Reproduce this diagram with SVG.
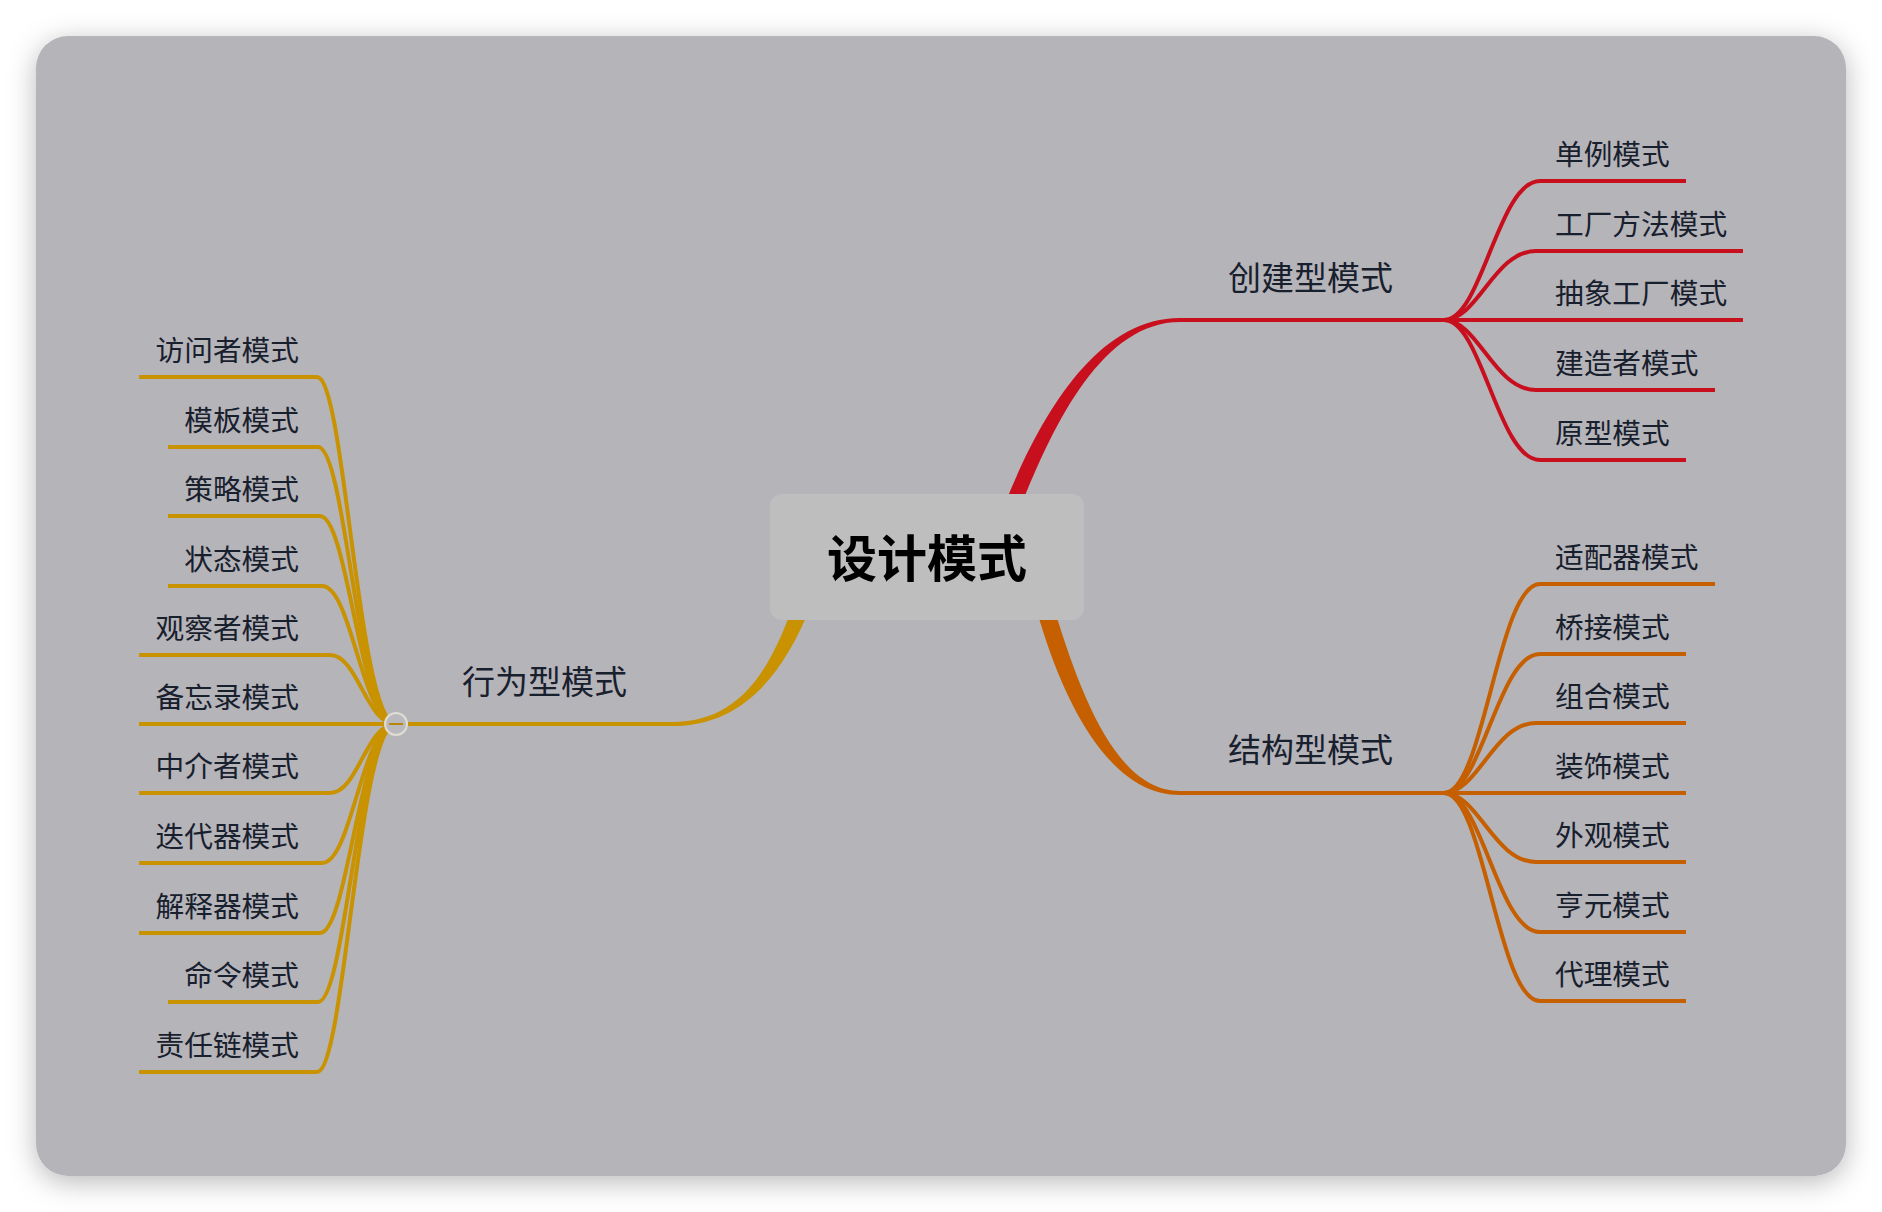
<svg xmlns="http://www.w3.org/2000/svg" width="1882" height="1212" viewBox="0 0 1882 1212">
<defs>
<filter id="shadow" x="-10%" y="-10%" width="120%" height="120%">
<feDropShadow dx="0" dy="6" stdDeviation="14" flood-color="#000" flood-opacity="0.28"/>
</filter>
<style>
.t{font-family:"Noto Sans CJK SC","Noto Sans",sans-serif;fill:#18202e;}
.c{font-size:28.7px;}
.p{font-size:33px;}
.root{font-size:50px;font-weight:bold;fill:#000;}
.r{fill:none;stroke:#c80f1e;stroke-width:4;}
.o{fill:none;stroke:#c55f00;stroke-width:4;}
.y{fill:none;stroke:#c99200;stroke-width:4;}
</style>
</defs>
<rect x="36" y="36" width="1810" height="1140" rx="32" fill="#b5b4b9" filter="url(#shadow)"/>
<g id="connectors">
<path d="M1004 506 C1040 416 1096 318 1180 318 L1180 322 C1104 322 1055 420 1021 506 Z" fill="#c80f1e"/>
<path class="r" d="M1178 320 H1444"/>
<path d="M1036 608 C1062 700 1108 795 1180 795 L1180 791 C1118 791 1082 700 1054 608 Z" fill="#c55f00"/>
<path class="o" d="M1178 793 H1444"/>
<path d="M810 608 C782 676 742 726 672 726 L672 722 C736 722 768 676 792 608 Z" fill="#c99200"/>
<path class="y" d="M674 724 H396"/>
<path class="r" d="M1444 320 C1482 320 1498 181 1540 181 H1686"/>
<path class="r" d="M1444 320 C1478 320 1494 251 1536 251 H1743"/>
<path class="r" d="M1444 320 H1743"/>
<path class="r" d="M1444 320 C1478 320 1494 390 1536 390 H1715"/>
<path class="r" d="M1444 320 C1482 320 1498 460 1540 460 H1686"/>
<path class="o" d="M1444 793 C1484 793 1498 584 1540 584 H1715"/>
<path class="o" d="M1444 793 C1482 793 1498 654 1540 654 H1686"/>
<path class="o" d="M1444 793 C1478 793 1494 723 1536 723 H1686"/>
<path class="o" d="M1444 793 H1686"/>
<path class="o" d="M1444 793 C1478 793 1494 862 1536 862 H1686"/>
<path class="o" d="M1444 793 C1482 793 1498 932 1540 932 H1686"/>
<path class="o" d="M1444 793 C1484 793 1498 1001 1540 1001 H1686"/>
<path class="y" d="M396 724 C358 724 345 377 317 377 H139"/>
<path class="y" d="M396 724 C358 724 346 447 318 447 H168"/>
<path class="y" d="M396 724 C360 724 348 516 320 516 H168"/>
<path class="y" d="M396 724 C362 724 352 586 322 586 H168"/>
<path class="y" d="M396 724 C366 724 358 655 330 655 H139"/>
<path class="y" d="M396 724 H139"/>
<path class="y" d="M396 724 C366 724 358 793 330 793 H139"/>
<path class="y" d="M396 724 C362 724 352 863 322 863 H139"/>
<path class="y" d="M396 724 C360 724 348 933 320 933 H139"/>
<path class="y" d="M396 724 C358 724 346 1002 318 1002 H168"/>
<path class="y" d="M396 724 C358 724 345 1072 317 1072 H139"/>
<circle cx="396" cy="724" r="11" fill="#bab9be" stroke="#e0ddd4" stroke-width="2"/>
<path d="M389 724 H403" stroke="#b8870a" stroke-width="2"/>
</g>
<g id="root">
<rect x="770" y="494" width="314" height="126" rx="12" fill="#bebebe"/>
<text class="t root" x="927" y="577" text-anchor="middle">设计模式</text>
</g>
<g id="n-creational"><text class="t p" x="1228" y="290">创建型模式</text></g>
<g id="n-structural"><text class="t p" x="1228" y="762">结构型模式</text></g>
<g id="n-behavioral"><text class="t p" x="462" y="694">行为型模式</text></g>
<g id="n-singleton"><text class="t c" x="1555" y="165">单例模式</text></g>
<g id="n-factory-method"><text class="t c" x="1555" y="235">工厂方法模式</text></g>
<g id="n-abstract-factory"><text class="t c" x="1555" y="304">抽象工厂模式</text></g>
<g id="n-builder"><text class="t c" x="1555" y="374">建造者模式</text></g>
<g id="n-prototype"><text class="t c" x="1555" y="444">原型模式</text></g>
<g id="n-adapter"><text class="t c" x="1555" y="568">适配器模式</text></g>
<g id="n-bridge"><text class="t c" x="1555" y="638">桥接模式</text></g>
<g id="n-composite"><text class="t c" x="1555" y="707">组合模式</text></g>
<g id="n-decorator"><text class="t c" x="1555" y="777">装饰模式</text></g>
<g id="n-facade"><text class="t c" x="1555" y="846">外观模式</text></g>
<g id="n-flyweight"><text class="t c" x="1555" y="916">亨元模式</text></g>
<g id="n-proxy"><text class="t c" x="1555" y="985">代理模式</text></g>
<g id="n-visitor"><text class="t c" x="299" y="361" text-anchor="end">访问者模式</text></g>
<g id="n-template"><text class="t c" x="299" y="431" text-anchor="end">模板模式</text></g>
<g id="n-strategy"><text class="t c" x="299" y="500" text-anchor="end">策略模式</text></g>
<g id="n-state"><text class="t c" x="299" y="570" text-anchor="end">状态模式</text></g>
<g id="n-observer"><text class="t c" x="299" y="639" text-anchor="end">观察者模式</text></g>
<g id="n-memento"><text class="t c" x="299" y="708" text-anchor="end">备忘录模式</text></g>
<g id="n-mediator"><text class="t c" x="299" y="777" text-anchor="end">中介者模式</text></g>
<g id="n-iterator"><text class="t c" x="299" y="847" text-anchor="end">迭代器模式</text></g>
<g id="n-interpreter"><text class="t c" x="299" y="917" text-anchor="end">解释器模式</text></g>
<g id="n-command"><text class="t c" x="299" y="986" text-anchor="end">命令模式</text></g>
<g id="n-chain"><text class="t c" x="299" y="1056" text-anchor="end">责任链模式</text></g>
</svg>
